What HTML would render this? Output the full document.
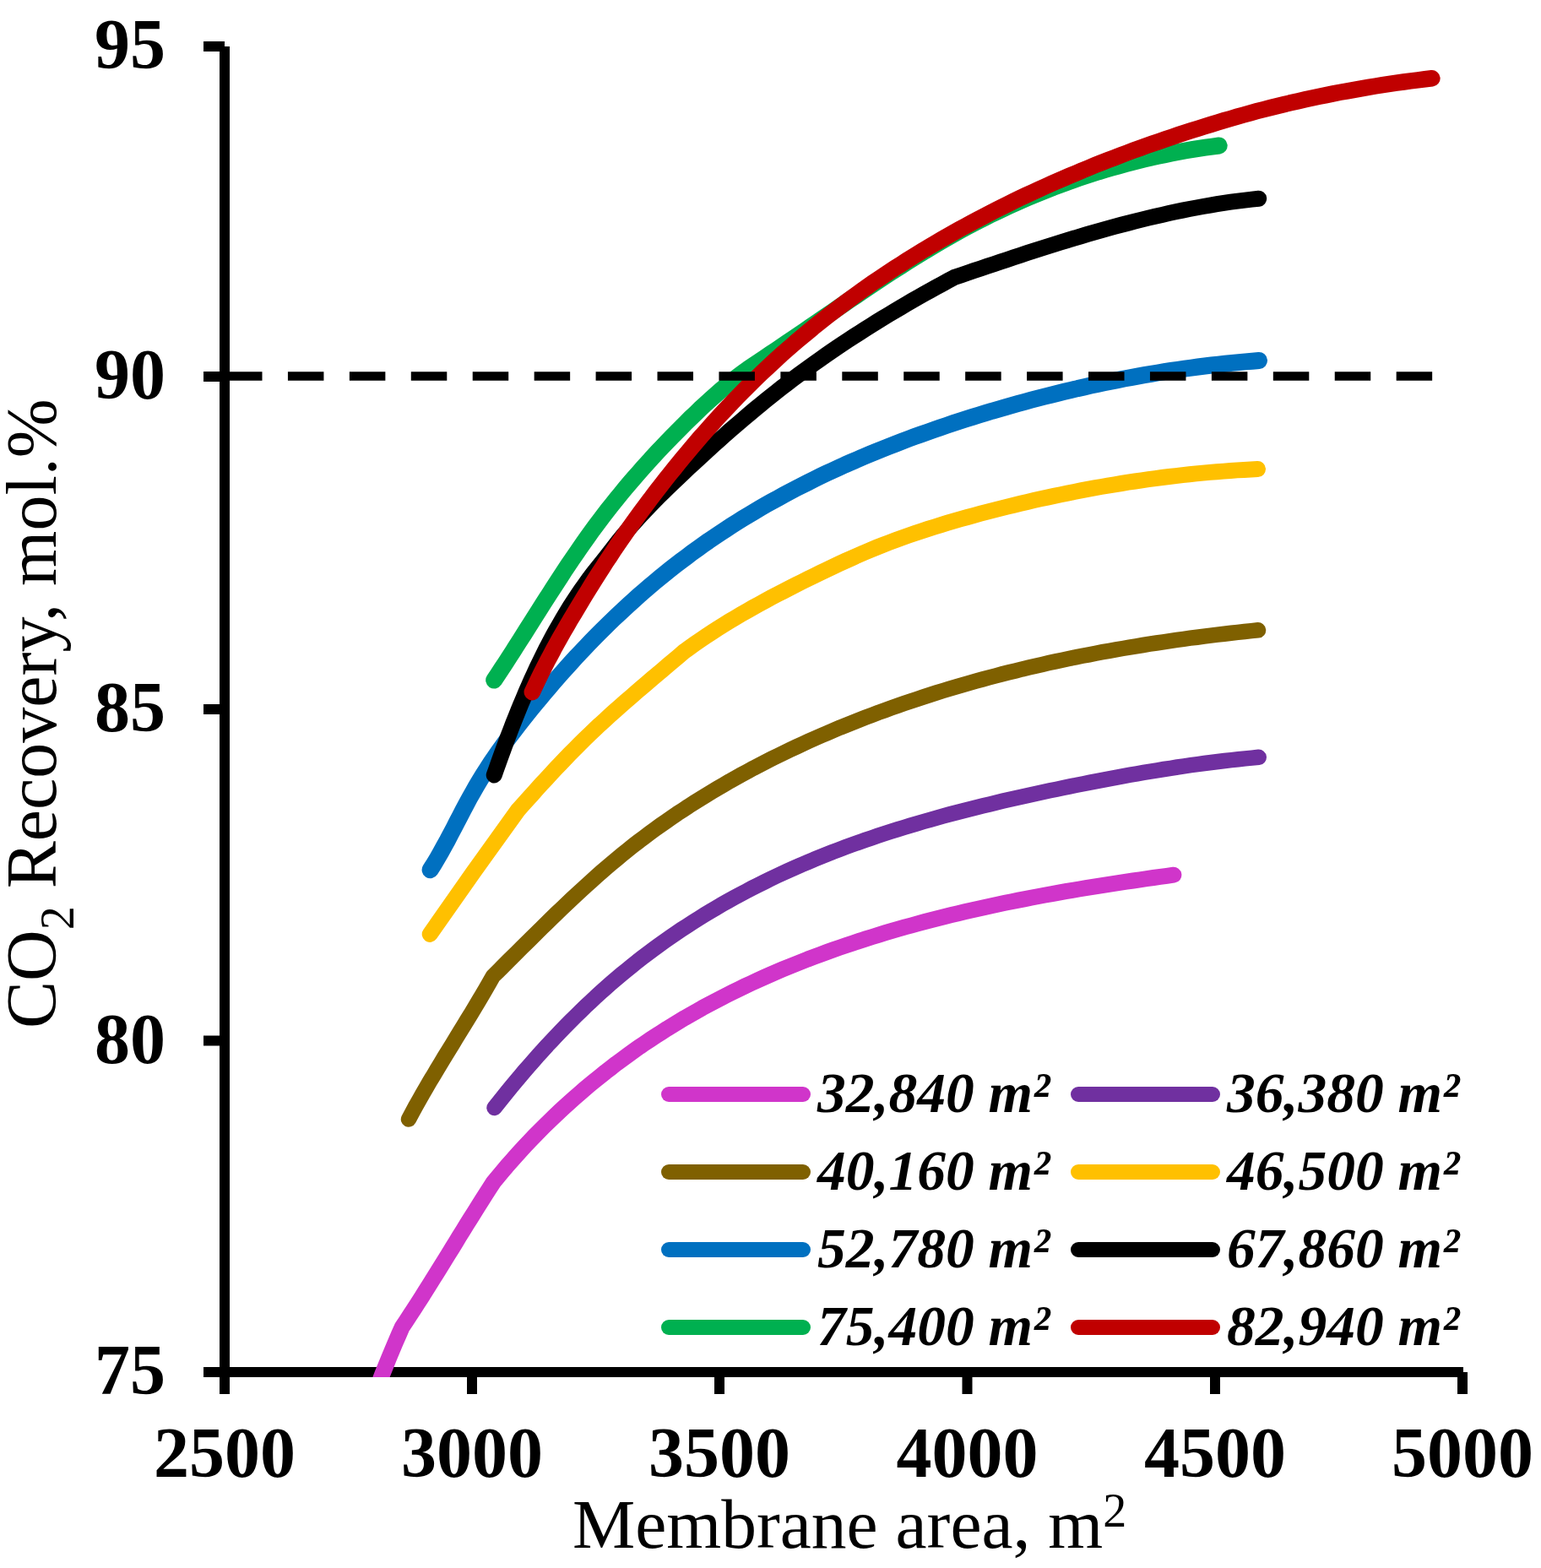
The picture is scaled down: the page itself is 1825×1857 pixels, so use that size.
<!DOCTYPE html>
<html><head><meta charset="utf-8"><title>CO2 Recovery vs Membrane area</title>
<style>html,body{margin:0;padding:0;background:#fff;}body{width:1825px;height:1857px;overflow:hidden;}svg{display:block;}</style>
</head><body>
<svg width="1825" height="1857" viewBox="0 0 1825 1857">
<rect width="1825" height="1857" fill="#fff"/>
<defs><clipPath id="pa"><rect x="266" y="0" width="1500" height="1631"/></clipPath></defs>
<g fill="#000">
<rect x="260" y="55" width="12" height="1576"/>
<rect x="241" y="1619" width="1492" height="12"/>
<rect x="241" y="49.0" width="25" height="12"/>
<rect x="241" y="440.0" width="25" height="12"/>
<rect x="241" y="834.0" width="25" height="12"/>
<rect x="241" y="1226.5" width="25" height="12"/>
<rect x="241" y="1619.0" width="25" height="12"/>
<rect x="260.0" y="1625" width="12" height="26"/>
<rect x="553.0" y="1625" width="12" height="26"/>
<rect x="846.0" y="1625" width="12" height="26"/>
<rect x="1139.5" y="1625" width="12" height="26"/>
<rect x="1433.0" y="1625" width="12" height="26"/>
<rect x="1726.0" y="1625" width="12" height="26"/>
</g>
<g clip-path="url(#pa)" fill="none" stroke-width="18" stroke-linecap="round" stroke-linejoin="round">
<path d="M446.0 1645.0 L449.6 1635.8 L453.2 1626.5 L456.9 1617.4 L460.6 1608.2 L464.4 1599.1 L468.3 1589.9 L472.2 1580.9 L476.2 1571.8 L480.9 1564.8 L485.5 1557.7 L490.2 1550.6 L494.7 1543.5 L499.3 1536.3 L503.8 1529.2 L508.3 1522.0 L512.8 1514.8 L517.3 1507.7 L521.7 1500.5 L526.2 1493.3 L530.6 1486.1 L535.1 1478.9 L539.5 1471.7 L543.9 1464.4 L548.4 1457.2 L552.8 1450.1 L557.3 1442.9 L561.8 1435.7 L566.3 1428.5 L570.8 1421.4 L575.3 1414.2 L579.9 1407.1 L584.5 1400.0 L589.7 1393.7 L594.9 1387.5 L600.1 1381.3 L605.5 1375.2 L610.9 1369.2 L616.3 1363.2 L621.8 1357.2 L627.4 1351.3 L633.0 1345.4 L638.7 1339.6 L644.4 1333.9 L650.2 1328.2 L656.0 1322.6 L661.9 1317.0 L667.8 1311.5 L673.8 1306.1 L679.9 1300.7 L686.0 1295.3 L692.1 1290.0 L698.3 1284.8 L704.6 1279.7 L710.9 1274.6 L717.2 1269.5 L723.6 1264.6 L730.0 1259.6 L736.5 1254.8 L743.1 1250.0 L749.6 1245.3 L756.2 1240.6 L762.9 1236.0 L769.6 1231.5 L776.4 1227.1 L783.2 1222.7 L790.0 1218.3 L796.9 1214.1 L803.8 1209.9 L810.7 1205.7 L817.7 1201.7 L824.8 1197.7 L831.8 1193.7 L838.9 1189.9 L846.1 1186.1 L853.3 1182.3 L860.5 1178.6 L867.7 1175.0 L875.0 1171.4 L882.3 1167.9 L889.6 1164.5 L896.9 1161.1 L904.3 1157.8 L911.7 1154.5 L919.1 1151.3 L926.6 1148.1 L934.1 1145.0 L941.6 1142.0 L949.1 1139.0 L956.6 1136.0 L964.2 1133.2 L971.8 1130.3 L979.4 1127.5 L987.0 1124.8 L994.6 1122.1 L1002.3 1119.5 L1010.0 1116.9 L1017.7 1114.4 L1025.4 1111.9 L1033.1 1109.5 L1040.8 1107.1 L1048.6 1104.7 L1056.3 1102.4 L1064.1 1100.2 L1071.9 1097.9 L1079.7 1095.8 L1087.6 1093.6 L1095.4 1091.5 L1103.2 1089.5 L1111.1 1087.5 L1119.0 1085.5 L1126.8 1083.6 L1134.7 1081.7 L1142.6 1079.8 L1150.5 1078.0 L1158.5 1076.2 L1166.4 1074.4 L1174.3 1072.7 L1182.3 1071.0 L1190.2 1069.3 L1198.2 1067.7 L1206.1 1066.1 L1214.1 1064.6 L1222.1 1063.0 L1230.1 1061.5 L1238.0 1060.0 L1246.0 1058.6 L1254.0 1057.1 L1262.0 1055.7 L1270.0 1054.4 L1278.0 1053.0 L1286.0 1051.7 L1294.0 1050.4 L1302.0 1049.1 L1310.0 1047.8 L1318.0 1046.6 L1326.0 1045.4 L1334.0 1044.2 L1342.0 1043.0 L1350.0 1041.8 L1358.0 1040.7 L1366.0 1039.5 L1373.9 1038.4 L1381.9 1037.3 L1389.9 1036.2" stroke="#D035CA" stroke-width="19"/>
<path d="M585.5 1312.0 L590.5 1305.7 L595.5 1299.4 L600.6 1293.1 L605.7 1286.9 L610.9 1280.6 L616.1 1274.5 L621.3 1268.3 L626.6 1262.2 L632.0 1256.1 L637.3 1250.0 L642.8 1244.0 L648.2 1238.0 L653.8 1232.1 L659.3 1226.2 L664.9 1220.3 L670.6 1214.5 L676.3 1208.7 L682.1 1203.0 L687.9 1197.3 L693.7 1191.7 L699.6 1186.2 L705.5 1180.6 L711.5 1175.2 L717.6 1169.8 L723.6 1164.4 L729.8 1159.2 L736.0 1153.9 L742.2 1148.8 L748.5 1143.7 L754.8 1138.6 L761.2 1133.7 L767.6 1128.8 L774.1 1124.0 L780.6 1119.2 L787.2 1114.5 L793.8 1109.9 L800.4 1105.3 L807.1 1100.8 L813.9 1096.4 L820.7 1092.0 L827.5 1087.7 L834.4 1083.4 L841.3 1079.3 L848.2 1075.2 L855.2 1071.1 L862.2 1067.1 L869.3 1063.2 L876.4 1059.3 L883.5 1055.6 L890.7 1051.8 L897.8 1048.2 L905.1 1044.6 L912.3 1041.0 L919.6 1037.5 L926.9 1034.1 L934.3 1030.8 L941.6 1027.5 L949.0 1024.2 L956.5 1021.1 L963.9 1017.9 L971.4 1014.9 L978.9 1011.9 L986.4 1008.9 L993.9 1006.1 L1001.5 1003.2 L1009.1 1000.4 L1016.7 997.7 L1024.3 995.0 L1032.0 992.4 L1039.6 989.8 L1047.3 987.3 L1055.0 984.8 L1062.7 982.4 L1070.5 980.0 L1078.2 977.6 L1086.0 975.3 L1093.8 973.0 L1101.6 970.8 L1109.4 968.6 L1117.2 966.4 L1125.0 964.3 L1132.9 962.2 L1140.7 960.2 L1148.6 958.2 L1156.5 956.2 L1164.3 954.3 L1172.2 952.4 L1180.1 950.5 L1188.0 948.6 L1195.9 946.8 L1203.8 945.0 L1211.8 943.2 L1219.7 941.4 L1227.6 939.7 L1235.5 938.0 L1243.4 936.3 L1251.4 934.7 L1259.3 933.0 L1267.2 931.4 L1275.2 929.8 L1283.1 928.2 L1291.0 926.6 L1299.0 925.1 L1306.9 923.6 L1314.8 922.1 L1322.8 920.6 L1330.7 919.1 L1338.6 917.7 L1346.6 916.3 L1354.5 914.9 L1362.5 913.6 L1370.5 912.3 L1378.4 911.0 L1386.4 909.8 L1394.4 908.5 L1402.4 907.4 L1410.3 906.2 L1418.3 905.1 L1426.3 904.0 L1434.4 903.0 L1442.4 902.0 L1450.4 901.0 L1458.4 900.1 L1466.5 899.2 L1474.6 898.4 L1482.6 897.6 L1490.7 896.8" stroke="#7030A0" stroke-width="18.5"/>
<path d="M484.0 1325.5 L488.0 1318.0 L492.1 1310.4 L496.3 1303.0 L500.5 1295.5 L504.8 1288.1 L509.1 1280.7 L513.5 1273.4 L517.9 1266.0 L522.3 1258.7 L526.7 1251.4 L531.2 1244.1 L535.7 1236.8 L540.1 1229.5 L544.6 1222.2 L549.1 1214.9 L553.5 1207.6 L558.0 1200.3 L562.4 1192.9 L566.8 1185.6 L571.2 1178.2 L575.5 1170.8 L579.8 1163.4 L584.0 1156.0 L589.8 1150.3 L595.5 1144.6 L601.2 1138.9 L607.0 1133.2 L612.7 1127.5 L618.4 1121.8 L624.2 1116.1 L630.0 1110.4 L635.7 1104.7 L641.5 1099.0 L647.3 1093.3 L653.1 1087.6 L658.9 1082.0 L664.8 1076.4 L670.6 1070.8 L676.5 1065.2 L682.4 1059.7 L688.4 1054.2 L694.4 1048.7 L700.4 1043.3 L706.4 1037.9 L712.5 1032.5 L718.6 1027.3 L724.8 1022.0 L731.0 1016.8 L737.2 1011.7 L743.5 1006.6 L749.8 1001.6 L756.2 996.6 L762.6 991.8 L769.1 986.9 L775.6 982.1 L782.2 977.4 L788.8 972.8 L795.5 968.2 L802.1 963.6 L808.9 959.2 L815.6 954.7 L822.4 950.4 L829.3 946.1 L836.2 941.8 L843.1 937.6 L850.0 933.5 L857.0 929.4 L864.0 925.3 L871.1 921.4 L878.2 917.4 L885.3 913.6 L892.4 909.7 L899.6 906.0 L906.8 902.3 L914.0 898.6 L921.3 895.0 L928.5 891.4 L935.9 887.9 L943.2 884.5 L950.5 881.1 L957.9 877.7 L965.3 874.4 L972.7 871.1 L980.2 867.9 L987.6 864.8 L995.1 861.6 L1002.6 858.6 L1010.1 855.6 L1017.6 852.6 L1025.1 849.7 L1032.7 846.8 L1040.3 843.9 L1047.9 841.2 L1055.5 838.4 L1063.1 835.7 L1070.8 833.1 L1078.4 830.5 L1086.1 827.9 L1093.8 825.4 L1101.5 822.9 L1109.2 820.4 L1116.9 818.0 L1124.7 815.7 L1132.4 813.4 L1140.2 811.1 L1148.0 808.9 L1155.7 806.7 L1163.6 804.5 L1171.4 802.4 L1179.2 800.4 L1187.0 798.3 L1194.9 796.3 L1202.7 794.4 L1210.6 792.4 L1218.5 790.6 L1226.4 788.7 L1234.3 786.9 L1242.2 785.1 L1250.1 783.4 L1258.0 781.7 L1265.9 780.0 L1273.9 778.4 L1281.8 776.8 L1289.8 775.3 L1297.7 773.7 L1305.7 772.2 L1313.7 770.8 L1321.6 769.4 L1329.6 768.0 L1337.6 766.6 L1345.6 765.3 L1353.6 764.0 L1361.6 762.7 L1369.6 761.5 L1377.6 760.3 L1385.6 759.1 L1393.7 757.9 L1401.7 756.8 L1409.7 755.7 L1417.7 754.7 L1425.8 753.6 L1433.8 752.6 L1441.8 751.6 L1449.8 750.7 L1457.9 749.8 L1465.9 748.9 L1473.9 748.0 L1482.0 747.1 L1490.0 746.3" stroke="#7F6000" stroke-width="18.5"/>
<path d="M509.2 1106.4 L561.0 1032.5 L613.5 959.4 L619.0 953.2 L624.5 947.1 L630.1 941.0 L635.6 934.8 L641.1 928.7 L646.7 922.7 L652.3 916.6 L657.9 910.6 L663.6 904.6 L669.3 898.6 L675.0 892.7 L680.8 886.8 L686.6 881.0 L692.4 875.3 L698.4 869.5 L704.3 863.9 L710.3 858.2 L716.4 852.7 L722.5 847.1 L728.6 841.6 L734.8 836.2 L741.0 830.7 L747.2 825.3 L753.4 819.9 L759.7 814.5 L765.9 809.2 L772.2 803.8 L778.5 798.5 L784.8 793.2 L791.1 787.8 L797.4 782.5 L803.7 777.2 L810.0 771.8 L816.6 767.0 L823.2 762.3 L829.8 757.7 L836.6 753.1 L843.3 748.7 L850.2 744.3 L857.0 740.0 L864.0 735.7 L870.9 731.6 L877.9 727.4 L884.9 723.4 L892.0 719.4 L899.1 715.5 L906.2 711.6 L913.4 707.7 L920.6 703.9 L927.8 700.2 L935.0 696.5 L942.3 692.8 L949.6 689.1 L956.8 685.5 L964.1 681.9 L971.4 678.4 L978.8 674.9 L986.1 671.4 L993.4 667.9 L1000.8 664.5 L1008.2 661.2 L1015.6 657.9 L1023.1 654.6 L1030.5 651.5 L1038.0 648.4 L1045.6 645.4 L1053.1 642.5 L1060.7 639.6 L1068.3 636.8 L1076.0 634.1 L1083.6 631.5 L1091.3 628.9 L1099.1 626.4 L1106.8 624.0 L1114.5 621.6 L1122.3 619.2 L1130.1 616.9 L1137.9 614.7 L1145.7 612.5 L1153.6 610.3 L1161.4 608.2 L1169.3 606.1 L1177.1 604.1 L1185.0 602.1 L1192.9 600.1 L1200.8 598.2 L1208.7 596.3 L1216.6 594.4 L1224.5 592.6 L1232.4 590.8 L1240.4 589.1 L1248.3 587.4 L1256.3 585.7 L1264.2 584.1 L1272.2 582.5 L1280.1 580.9 L1288.1 579.4 L1296.1 577.9 L1304.1 576.5 L1312.1 575.1 L1320.1 573.8 L1328.1 572.5 L1336.1 571.2 L1344.2 570.0 L1352.2 568.8 L1360.2 567.7 L1368.3 566.6 L1376.3 565.5 L1384.4 564.5 L1392.4 563.6 L1400.5 562.6 L1408.6 561.8 L1416.6 560.9 L1424.7 560.1 L1432.8 559.4 L1440.9 558.7 L1449.0 558.1 L1457.1 557.5 L1465.2 556.9 L1473.3 556.4 L1481.4 555.9 L1489.5 555.5" stroke="#FFC000" stroke-width="19"/>
<path d="M509.6 1030.2 L513.9 1023.4 L518.0 1016.5 L522.0 1009.5 L525.9 1002.4 L529.8 995.4 L533.5 988.2 L537.3 981.1 L541.0 973.9 L544.7 966.8 L548.4 959.6 L552.2 952.5 L556.0 945.4 L560.0 938.3 L564.0 931.3 L568.1 924.4 L572.3 917.6 L576.6 910.8 L581.0 904.0 L585.5 897.4 L590.1 890.7 L594.7 884.2 L599.5 877.6 L604.3 871.2 L609.2 864.8 L614.1 858.4 L619.1 852.0 L624.1 845.7 L629.2 839.5 L634.3 833.2 L639.5 827.0 L644.6 820.9 L649.9 814.7 L655.1 808.6 L660.4 802.5 L665.7 796.5 L671.1 790.5 L676.5 784.5 L681.9 778.6 L687.4 772.7 L693.0 766.9 L698.5 761.0 L704.1 755.3 L709.8 749.5 L715.5 743.9 L721.2 738.2 L727.0 732.6 L732.9 727.1 L738.8 721.6 L744.7 716.1 L750.7 710.7 L756.7 705.3 L762.8 700.0 L769.0 694.7 L775.1 689.5 L781.4 684.3 L787.6 679.2 L793.9 674.2 L800.3 669.2 L806.7 664.3 L813.2 659.4 L819.6 654.6 L826.2 649.8 L832.7 645.2 L839.3 640.5 L846.0 636.0 L852.7 631.5 L859.4 627.1 L866.1 622.7 L872.9 618.4 L879.8 614.1 L886.6 609.9 L893.5 605.8 L900.5 601.7 L907.4 597.7 L914.4 593.8 L921.5 589.9 L928.5 586.0 L935.6 582.2 L942.7 578.5 L949.9 574.8 L957.1 571.2 L964.3 567.6 L971.5 564.1 L978.8 560.6 L986.1 557.2 L993.4 553.9 L1000.7 550.5 L1008.1 547.3 L1015.5 544.1 L1022.9 540.9 L1030.3 537.8 L1037.7 534.7 L1045.2 531.7 L1052.7 528.7 L1060.2 525.8 L1067.8 522.9 L1075.3 520.0 L1082.9 517.2 L1090.5 514.5 L1098.1 511.8 L1105.7 509.1 L1113.3 506.5 L1121.0 503.9 L1128.6 501.3 L1136.3 498.8 L1144.0 496.3 L1151.7 493.9 L1159.4 491.5 L1167.1 489.2 L1174.8 486.8 L1182.6 484.6 L1190.3 482.3 L1198.1 480.1 L1205.9 477.9 L1213.6 475.8 L1221.4 473.7 L1229.2 471.6 L1237.0 469.6 L1244.8 467.7 L1252.7 465.7 L1260.5 463.8 L1268.3 462.0 L1276.2 460.1 L1284.1 458.4 L1291.9 456.6 L1299.8 454.9 L1307.7 453.3 L1315.6 451.7 L1323.5 450.1 L1331.4 448.5 L1339.3 447.1 L1347.2 445.6 L1355.2 444.2 L1363.1 442.8 L1371.0 441.5 L1379.0 440.2 L1386.9 439.0 L1394.9 437.8 L1402.9 436.7 L1410.9 435.6 L1418.8 434.5 L1426.8 433.5 L1434.8 432.5 L1442.8 431.6 L1450.9 430.7 L1458.9 429.9 L1466.9 429.1 L1474.9 428.4 L1483.0 427.7 L1491.0 427.0" stroke="#0070C0" stroke-width="20"/>
<path d="M585.2 918.0 L587.9 910.4 L590.6 902.8 L593.3 895.2 L596.1 887.6 L598.9 880.0 L601.7 872.4 L604.6 864.8 L607.5 857.3 L610.5 849.8 L613.5 842.2 L616.6 834.7 L619.7 827.3 L622.8 819.8 L626.1 812.4 L629.3 805.0 L632.7 797.7 L636.1 790.3 L639.6 783.0 L643.2 775.8 L646.8 768.5 L650.5 761.4 L654.3 754.2 L658.2 747.1 L662.2 740.1 L666.2 733.1 L670.4 726.1 L674.6 719.2 L679.0 712.4 L683.4 705.7 L687.9 699.0 L692.6 692.4 L697.3 685.9 L702.1 679.5 L707.1 673.2 L712.1 666.9 L717.1 660.6 L722.0 654.3 L727.0 648.0 L731.9 641.6 L737.0 635.4 L742.1 629.2 L747.3 623.1 L752.7 617.1 L758.1 611.1 L763.6 605.2 L769.2 599.4 L774.8 593.6 L780.5 587.9 L786.3 582.2 L792.1 576.5 L797.9 570.9 L803.8 565.3 L809.6 559.8 L815.5 554.2 L821.5 548.7 L827.4 543.2 L833.4 537.7 L839.4 532.2 L845.4 526.8 L851.4 521.4 L857.5 516.0 L863.5 510.7 L869.6 505.4 L875.8 500.1 L881.9 494.8 L888.1 489.6 L894.3 484.4 L900.5 479.3 L906.8 474.2 L913.1 469.1 L919.4 464.1 L925.8 459.1 L932.2 454.2 L938.6 449.3 L945.1 444.4 L951.6 439.6 L958.1 434.9 L964.7 430.1 L971.3 425.5 L977.9 420.8 L984.6 416.2 L991.2 411.7 L997.9 407.2 L1004.7 402.7 L1011.4 398.3 L1018.2 393.9 L1025.1 389.5 L1031.9 385.2 L1038.8 380.9 L1045.7 376.7 L1052.6 372.5 L1059.5 368.3 L1066.5 364.2 L1073.4 360.1 L1080.4 356.0 L1087.5 352.0 L1094.5 348.0 L1101.6 344.1 L1108.7 340.2 L1115.8 336.3 L1122.9 332.4 L1130.0 328.6 L1137.8 325.9 L1145.7 323.3 L1153.5 320.6 L1161.4 318.0 L1169.2 315.3 L1177.1 312.7 L1185.0 310.0 L1192.9 307.4 L1200.7 304.8 L1208.6 302.2 L1216.5 299.6 L1224.4 297.0 L1232.3 294.5 L1240.2 292.0 L1248.2 289.5 L1256.1 287.0 L1264.0 284.6 L1272.0 282.2 L1279.9 279.8 L1287.9 277.4 L1295.9 275.1 L1303.9 272.8 L1311.8 270.6 L1319.9 268.4 L1327.9 266.3 L1335.9 264.2 L1343.9 262.1 L1352.0 260.1 L1360.0 258.1 L1368.1 256.2 L1376.2 254.4 L1384.3 252.6 L1392.4 250.8 L1400.5 249.1 L1408.6 247.5 L1416.8 246.0 L1424.9 244.5 L1433.1 243.1 L1441.3 241.7 L1449.5 240.4 L1457.7 239.2 L1465.9 238.1 L1474.2 237.1 L1482.4 236.1 L1490.7 235.2" stroke="#000000" stroke-width="19"/>
<path d="M585.2 805.6 L589.7 798.8 L594.1 792.0 L598.6 785.2 L603.0 778.4 L607.4 771.6 L611.7 764.7 L616.1 757.9 L620.5 751.0 L624.8 744.1 L629.1 737.3 L633.5 730.4 L637.8 723.6 L642.2 716.7 L646.5 709.9 L650.9 703.1 L655.3 696.3 L659.7 689.5 L664.1 682.7 L668.5 675.9 L673.0 669.2 L677.5 662.5 L682.1 655.8 L686.7 649.1 L691.3 642.5 L696.0 635.9 L700.7 629.3 L705.5 622.8 L710.4 616.3 L715.3 609.8 L720.2 603.4 L725.2 597.1 L730.3 590.7 L735.4 584.5 L740.6 578.2 L745.8 572.0 L751.1 565.9 L756.5 559.7 L761.8 553.7 L767.3 547.6 L772.8 541.6 L778.3 535.6 L783.8 529.7 L789.4 523.8 L795.1 518.0 L800.8 512.2 L806.5 506.4 L812.2 500.7 L818.0 495.0 L823.9 489.4 L829.7 483.8 L835.7 478.2 L841.6 472.8 L847.7 467.4 L853.8 462.1 L860.0 456.9 L866.3 451.8 L872.6 446.9 L879.1 442.0 L885.6 437.3 L892.3 432.7 L899.0 428.2 L905.7 423.7 L912.5 419.2 L919.2 414.7 L926.0 410.2 L932.7 405.6 L939.4 401.1 L946.1 396.5 L952.8 391.9 L959.5 387.3 L966.2 382.7 L973.0 378.1 L979.7 373.5 L986.4 368.9 L993.1 364.3 L999.8 359.7 L1006.5 355.1 L1013.2 350.6 L1020.0 346.0 L1026.7 341.5 L1033.5 337.0 L1040.2 332.5 L1047.0 328.0 L1053.8 323.5 L1060.6 319.1 L1067.5 314.7 L1074.3 310.4 L1081.2 306.1 L1088.1 301.8 L1095.0 297.5 L1102.0 293.4 L1108.9 289.2 L1115.9 285.1 L1123.0 281.1 L1130.0 277.1 L1137.1 273.1 L1144.2 269.3 L1151.4 265.5 L1158.6 261.7 L1165.8 258.0 L1173.0 254.4 L1180.3 250.9 L1187.7 247.4 L1195.0 244.0 L1202.4 240.6 L1209.8 237.3 L1217.3 234.1 L1224.7 231.0 L1232.2 227.9 L1239.8 224.9 L1247.3 221.9 L1254.9 219.1 L1262.5 216.3 L1270.2 213.5 L1277.8 210.9 L1285.5 208.3 L1293.3 205.8 L1301.0 203.3 L1308.8 201.0 L1316.5 198.7 L1324.4 196.5 L1332.2 194.3 L1340.0 192.3 L1347.9 190.3 L1355.8 188.4 L1363.7 186.5 L1371.6 184.8 L1379.6 183.1 L1387.5 181.5 L1395.5 180.0 L1403.5 178.5 L1411.5 177.2 L1419.5 175.9 L1427.6 174.7 L1435.6 173.6 L1443.7 172.5" stroke="#00B050" stroke-width="20"/>
<path d="M630.3 819.6 L633.7 812.3 L637.2 805.0 L640.7 797.8 L644.3 790.6 L648.0 783.4 L651.8 776.3 L655.6 769.1 L659.5 762.1 L663.4 755.0 L667.4 748.0 L671.5 741.0 L675.5 734.0 L679.7 727.1 L683.8 720.2 L688.0 713.2 L692.2 706.3 L696.4 699.5 L700.6 692.6 L704.9 685.8 L709.2 679.0 L713.6 672.2 L717.9 665.4 L722.4 658.7 L726.8 652.0 L731.3 645.3 L735.8 638.7 L740.4 632.1 L745.0 625.5 L749.7 619.0 L754.4 612.5 L759.1 606.0 L763.9 599.6 L768.7 593.2 L773.6 586.7 L778.5 580.3 L783.4 574.0 L788.4 567.6 L793.4 561.3 L798.5 555.0 L803.6 548.7 L808.7 542.4 L813.9 536.2 L819.1 530.0 L824.3 523.9 L829.6 517.7 L835.0 511.6 L840.4 505.6 L845.8 499.6 L851.2 493.6 L856.7 487.6 L862.3 481.7 L867.8 475.8 L873.5 470.0 L879.1 464.2 L884.8 458.5 L890.6 452.8 L896.4 447.1 L902.2 441.5 L908.1 436.0 L914.0 430.5 L919.9 425.0 L925.9 419.6 L931.9 414.3 L938.0 409.0 L944.1 403.7 L950.3 398.5 L956.5 393.4 L962.7 388.2 L969.0 383.2 L975.3 378.2 L981.6 373.2 L988.0 368.3 L994.4 363.4 L1000.8 358.6 L1007.3 353.8 L1013.8 349.1 L1020.3 344.4 L1026.9 339.7 L1033.5 335.1 L1040.2 330.6 L1046.9 326.1 L1053.6 321.6 L1060.3 317.2 L1067.1 312.9 L1073.9 308.5 L1080.7 304.3 L1087.6 300.0 L1094.4 295.8 L1101.4 291.7 L1108.3 287.6 L1115.3 283.5 L1122.3 279.5 L1129.3 275.5 L1136.3 271.6 L1143.4 267.7 L1150.5 263.9 L1157.6 260.1 L1164.8 256.3 L1171.9 252.6 L1179.1 248.9 L1186.4 245.3 L1193.6 241.7 L1200.9 238.1 L1208.1 234.6 L1215.4 231.2 L1222.8 227.7 L1230.1 224.4 L1237.5 221.0 L1244.9 217.7 L1252.3 214.4 L1259.7 211.2 L1267.1 208.0 L1274.6 204.9 L1282.0 201.7 L1289.5 198.7 L1297.0 195.6 L1304.5 192.6 L1312.1 189.7 L1319.6 186.8 L1327.2 183.9 L1334.8 181.0 L1342.3 178.2 L1349.9 175.5 L1357.6 172.7 L1365.2 170.0 L1372.8 167.4 L1380.5 164.7 L1388.1 162.2 L1395.8 159.6 L1403.5 157.1 L1411.2 154.6 L1418.8 152.2 L1426.5 149.8 L1434.3 147.4 L1442.0 145.0 L1449.7 142.7 L1457.4 140.5 L1465.2 138.2 L1472.9 136.0 L1480.7 133.8 L1488.4 131.7 L1496.6 129.6 L1504.8 127.5 L1513.0 125.5 L1521.2 123.5 L1529.4 121.6 L1537.7 119.7 L1545.9 117.8 L1554.2 116.0 L1562.4 114.3 L1570.7 112.6 L1579.0 110.9 L1587.3 109.3 L1595.6 107.8 L1603.9 106.3 L1612.2 104.8 L1620.6 103.4 L1628.9 102.0 L1637.3 100.7 L1645.6 99.4 L1654.0 98.2 L1662.4 97.0 L1670.7 95.9 L1679.1 94.8 L1687.5 93.8 L1695.9 92.8" stroke="#C00000" stroke-width="19.5"/>
</g>
<line x1="268" y1="445.5" x2="1700" y2="445.5" stroke="#000" stroke-width="10.7" stroke-dasharray="42.5 30.43"/>
<g font-family="Liberation Serif, serif" font-weight="bold" font-size="84" fill="#000">
<text x="196" y="81.0" text-anchor="end">95</text>
<text x="196" y="472.0" text-anchor="end">90</text>
<text x="196" y="866.0" text-anchor="end">85</text>
<text x="196" y="1258.5" text-anchor="end">80</text>
<text x="196" y="1651.0" text-anchor="end">75</text>
<text x="266.0" y="1748.5" text-anchor="middle">2500</text>
<text x="559.0" y="1748.5" text-anchor="middle">3000</text>
<text x="852.0" y="1748.5" text-anchor="middle">3500</text>
<text x="1145.5" y="1748.5" text-anchor="middle">4000</text>
<text x="1439.0" y="1748.5" text-anchor="middle">4500</text>
<text x="1732.0" y="1748.5" text-anchor="middle">5000</text>
</g>
<text x="678" y="1833" font-family="Liberation Serif, serif" font-size="83.5" fill="#000">Membrane area, m<tspan font-size="56" dy="-25">2</tspan></text>
<text transform="translate(66,1218) rotate(-90)" font-family="Liberation Serif, serif" font-size="84" fill="#000">CO<tspan font-size="56" dy="21">2</tspan><tspan dy="-21"> Recovery, mol.%</tspan></text>
<g font-family="Liberation Serif, serif" font-weight="bold" font-style="italic" font-size="67.5" fill="#000">
<line x1="792" y1="1296" x2="951" y2="1296" stroke="#D035CA" stroke-width="18" stroke-linecap="round"/>
<text x="968" y="1316.5">32,840 m²</text>
<line x1="1277" y1="1296" x2="1436" y2="1296" stroke="#7030A0" stroke-width="18" stroke-linecap="round"/>
<text x="1453" y="1316.5">36,380 m²</text>
<line x1="792" y1="1388" x2="951" y2="1388" stroke="#7F6000" stroke-width="18" stroke-linecap="round"/>
<text x="968" y="1408.5">40,160 m²</text>
<line x1="1277" y1="1388" x2="1436" y2="1388" stroke="#FFC000" stroke-width="18" stroke-linecap="round"/>
<text x="1453" y="1408.5">46,500 m²</text>
<line x1="792" y1="1480" x2="951" y2="1480" stroke="#0070C0" stroke-width="18" stroke-linecap="round"/>
<text x="968" y="1500.5">52,780 m²</text>
<line x1="1277" y1="1480" x2="1436" y2="1480" stroke="#000000" stroke-width="18" stroke-linecap="round"/>
<text x="1453" y="1500.5">67,860 m²</text>
<line x1="792" y1="1572" x2="951" y2="1572" stroke="#00B050" stroke-width="18" stroke-linecap="round"/>
<text x="968" y="1592.5">75,400 m²</text>
<line x1="1277" y1="1572" x2="1436" y2="1572" stroke="#C00000" stroke-width="18" stroke-linecap="round"/>
<text x="1453" y="1592.5">82,940 m²</text>
</g>
</svg>
</body></html>
